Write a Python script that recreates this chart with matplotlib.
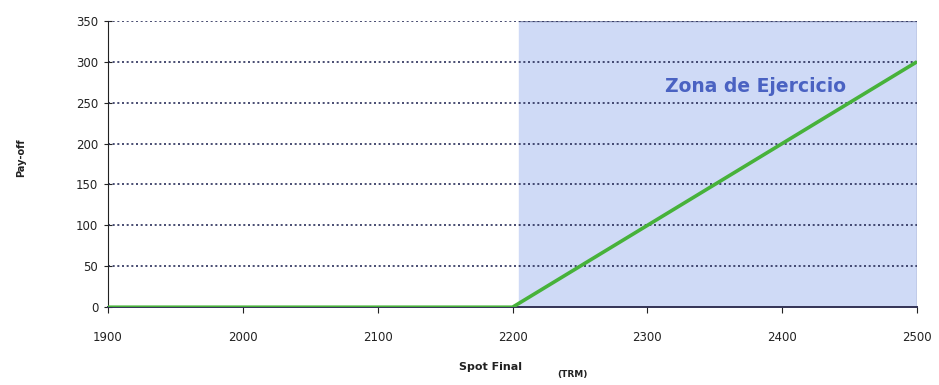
import matplotlib.pyplot as plt

# call payoff at expiry, strike 2200
spot = [1900, 2000, 2100, 2200, 2300, 2400, 2500]
payoff = [0, 0, 0, 0, 100, 200, 300]
strike = 2200
x_ticks = [1900, 2000, 2100, 2200, 2300, 2400, 2500]
y_ticks = [0, 50, 100, 150, 200, 250, 300, 350]

fig = plt.figure(figsize=(9.39, 3.85), dpi=100)
ax = fig.add_axes([0.115, 0.202, 0.8616, 0.744])

ax.axvspan(strike + 5, 2500, color='#cfdaf6', zorder=0)
ax.plot([strike + 5, 2500, 2500], [350, 350, 0], color='#8890b0', lw=1, zorder=1)

for y in y_ticks[1:]:
    ax.axhline(y, color='#2a2f5a', lw=1.2, ls=(0, (1.2, 1.6)), zorder=2)

ax.plot(spot, payoff, color='#47b23a', lw=2.6, zorder=3, solid_capstyle='butt')

ax.set_xlim(1900, 2500)
ax.set_ylim(0, 350)
ax.set_xticks(x_ticks)
ax.set_yticks(y_ticks)
ax.tick_params(axis='y', direction='inout', length=6, labelsize=8.5, colors='#222222', pad=4)
ax.tick_params(axis='x', direction='out', length=4, labelsize=8.5, colors='#222222', pad=13)
for s in ['top', 'right']:
    ax.spines[s].set_visible(False)
ax.spines['left'].set_color('#222222')
ax.spines['bottom'].set_color('#333355')
ax.spines['bottom'].set_linewidth(1.4)

ax.text(2380, 270, 'Zona de Ejercicio', color='#4a62c2', fontsize=13.5,
        fontweight='bold', ha='center', va='center')

fig.text(0.022, 0.59, 'Pay-off', rotation=90, fontsize=7, color='#222222',
         ha='center', va='center', fontweight='bold')
fig.text(0.522, 0.048, 'Spot Final', fontsize=8, fontweight='bold',
         color='#222222', ha='center', va='center')
fig.text(0.61, 0.026, '(TRM)', fontsize=6.5, fontweight='bold',
         color='#222222', ha='center', va='center')

fig.savefig('out.png', dpi=100)
